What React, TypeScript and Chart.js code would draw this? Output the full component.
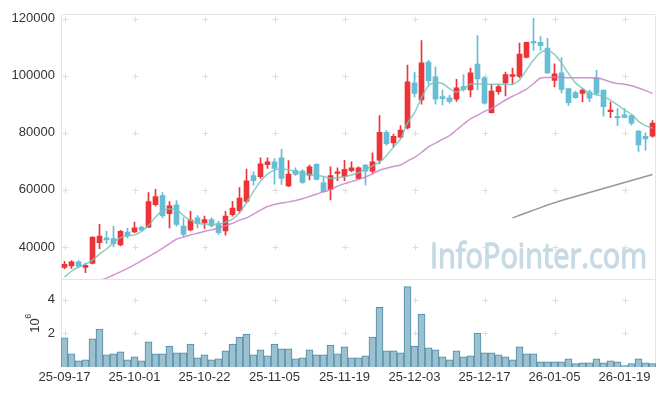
import React, { useEffect, useRef } from "react";
import { Chart, registerables } from "chart.js";

Chart.register(...registerables);

const dates = [
  "25-09-17", "25-09-18", "25-09-19", "25-09-22", "25-09-23", "25-09-24", "25-09-25", "25-09-26", "25-09-29", "25-09-30",
  "25-10-01", "25-10-02", "25-10-10", "25-10-13", "25-10-14", "25-10-15", "25-10-16", "25-10-17", "25-10-20", "25-10-21",
  "25-10-22", "25-10-23", "25-10-24", "25-10-27", "25-10-28", "25-10-29", "25-10-30", "25-10-31", "25-11-03", "25-11-04",
  "25-11-05", "25-11-06", "25-11-07", "25-11-10", "25-11-11", "25-11-12", "25-11-13", "25-11-14", "25-11-17", "25-11-18",
  "25-11-19", "25-11-20", "25-11-21", "25-11-24", "25-11-25", "25-11-26", "25-11-27", "25-11-28", "25-12-01", "25-12-02",
  "25-12-03", "25-12-04", "25-12-05", "25-12-08", "25-12-09", "25-12-10", "25-12-11", "25-12-12", "25-12-15", "25-12-16",
  "25-12-17", "25-12-18", "25-12-19", "25-12-22", "25-12-23", "25-12-24", "25-12-26", "25-12-29", "25-12-30", "26-01-02",
  "26-01-05", "26-01-06", "26-01-07", "26-01-08", "26-01-09", "26-01-12", "26-01-13", "26-01-14", "26-01-15", "26-01-16",
  "26-01-19", "26-01-20", "26-01-21", "26-01-22", "26-01-23",
];

const opens = [
  32800, 33400, 34800, 32800, 34200, 41500, 43200, 42900, 40700, 45200,
  45300, 46900, 46900, 54800, 58000, 51700, 54800, 47300, 46000, 50200,
  48400, 49600, 48200, 45600, 51300, 52700, 56000, 65000, 64600, 68800,
  69800, 71200, 61400, 66900, 66600, 65200, 69000, 62500, 60200, 65800,
  64600, 66700, 64000, 68700, 66600, 70400, 80200, 76500, 78500, 81700,
  97500, 91500, 104800, 99600, 92700, 92300, 91800, 96200, 95000, 104100,
  99300, 87100, 94400, 97500, 99800, 99800, 106400, 111700, 111700, 109700,
  98400, 101000, 95500, 94100, 93800, 94400, 99300, 95000, 87400, 85800,
  86300, 86000, 80600, 78800, 78800,
];

const highs = [
  35000, 35200, 35200, 34300, 43600, 47900, 45500, 47300, 45800, 46500,
  48700, 47300, 59100, 60200, 59100, 55900, 56300, 50200, 52500, 51000,
  50800, 50200, 49000, 52500, 56000, 60800, 67300, 66300, 71200, 71200,
  71000, 74200, 70300, 67700, 67000, 68700, 69200, 64600, 68100, 67700,
  70400, 69800, 68100, 68900, 73000, 86000, 80800, 79600, 82500, 103700,
  101200, 112300, 105400, 103100, 95000, 93100, 98700, 100400, 102700, 114100,
  99600, 97000, 97000, 101300, 102700, 111400, 111800, 120100, 113700, 113100,
  104200, 106400, 95500, 94600, 95400, 95000, 101900, 95000, 90800, 88500,
  88500, 86300, 80800, 80000, 84300,
];

const lows = [
  32300, 32500, 32800, 31000, 34100, 39400, 41200, 40000, 40400, 43200,
  45000, 45500, 46800, 54400, 50200, 46700, 47300, 43800, 45600, 46700,
  46500, 46900, 44400, 44100, 50800, 51900, 55400, 61700, 64000, 67500,
  62000, 61900, 61100, 65100, 62300, 63500, 63500, 59100, 56500, 63200,
  63200, 66300, 63800, 61700, 65800, 69200, 75600, 75000, 78100, 81400,
  92500, 90000, 97000, 90000, 89800, 90400, 91000, 94600, 92600, 95000,
  90000, 86900, 93500, 92900, 97000, 99300, 106200, 108900, 108900, 100800,
  96100, 94000, 89600, 92100, 90800, 90900, 93300, 85800, 85300, 82500,
  85200, 82700, 73500, 73900, 78500,
];

const closes = [
  33900, 34800, 33200, 33600, 43500, 43800, 42500, 41200, 45500, 44000,
  46700, 45900, 55900, 57700, 51000, 54400, 47900, 44400, 49400, 48200,
  49600, 47500, 45000, 50800, 53600, 57100, 63200, 63200, 69100, 69800,
  67500, 64000, 65500, 65400, 62600, 68100, 63700, 59400, 65000, 66300,
  67200, 67700, 67700, 66600, 69800, 80200, 76200, 78800, 81000, 97900,
  93800, 104500, 98300, 91800, 92000, 91000, 95800, 95200, 101000, 98900,
  90400, 94600, 96200, 100400, 100400, 107600, 111700, 111500, 110500, 101000,
  100700, 95200, 90600, 92300, 95000, 92100, 93800, 89200, 87500, 85200,
  85400, 83400, 75800, 77900, 83400,
];

const volumes = [
  1730000, 780000, 370000, 430000, 1670000, 2250000, 730000, 780000, 900000, 430000,
  610000, 370000, 1490000, 780000, 780000, 1250000, 840000, 840000, 1370000, 550000,
  730000, 430000, 490000, 960000, 1370000, 1780000, 1960000, 730000, 1020000, 670000,
  1370000, 1080000, 1080000, 490000, 550000, 1020000, 730000, 730000, 1310000, 780000,
  1200000, 550000, 550000, 670000, 1780000, 3550000, 960000, 960000, 840000, 4780000,
  1250000, 3140000, 1140000, 1020000, 610000, 430000, 960000, 610000, 670000, 2020000,
  840000, 840000, 730000, 610000, 430000, 1200000, 780000, 780000, 310000, 310000,
  310000, 310000, 490000, 200000, 250000, 250000, 490000, 250000, 370000, 310000,
  80000, 200000, 490000, 250000, 200000,
];

const ma5 = [
  29500, 31500, 33000, 34000, 35400, 37500, 39300, 41500, 43300, 43900,
  44200, 45500, 47500, 50500, 52700, 53300, 53200, 51000, 49300, 48300,
  48000, 48000, 48000, 48700, 49800, 52000, 55600, 59500, 63000, 65500,
  67000, 67200, 67100, 66500, 65600, 65400, 65100, 64700, 64000, 64300,
  64600, 65200, 66000, 67200, 68400, 69700, 72000, 75000, 77800, 83500,
  87000, 92300, 96500, 97600, 97300, 95500, 94300, 95500, 97100, 97100,
  97000, 97000, 97000, 97000, 97000, 98500, 102000, 105500, 108100, 108800,
  107500, 104500, 100800, 97500, 95600, 93800, 93300, 92800, 91400, 89800,
  88000, 86500, 84000, 82500, 81600,
];

const ma20 = [
  24500, 25300, 26000, 26800, 27500, 28300, 29100, 30200, 31300, 32500,
  33800, 35200, 36600, 38000, 39500, 41200, 42700, 43500, 44200, 44800,
  45500, 46000, 46700, 47400, 48300, 49400, 50200, 51500, 52900, 54200,
  54900, 55400, 55800, 56300, 56900, 57700, 58500, 59400, 60000, 61300,
  62200, 62900, 63700, 64500, 65600, 66900, 67600, 68200, 68700, 70100,
  71400, 73100, 75100, 76400, 77700, 79000, 81000, 83000, 84900, 86200,
  87500, 88500, 90000, 91500, 92800, 94000, 95300, 97200, 99200, 99400,
  99500, 99500, 99300, 99300, 99300, 99300, 99200, 98700, 97800, 97300,
  97000, 96500, 95700, 94800, 93800,
];

const ma60 = [
  null, null, null, null, null, null, null, null, null, null,
  null, null, null, null, null, null, null, null, null, null,
  null, null, null, null, null, null, null, null, null, null,
  null, null, null, null, null, null, null, null, null, null,
  null, null, null, null, null, null, null, null, null, null,
  null, null, null, null, null, null, null, null, null, null,
  null, null, null, null, 50200, 51100, 52000, 52900, 53800, 54700,
  55500, 56300, 57000, 57700, 58400, 59100, 59800, 60500, 61200, 61900,
  62600, 63300, 64000, 64700, 65400,
];

const priceTicks = [40000, 60000, 80000, 100000, 120000];
const volumeTicks = [2000000, 4000000];
const labelIndexes = [0, 10, 20, 30, 40, 50, 60, 70, 80];

const PRICE_MIN = 28800;
const PRICE_MAX = 121700;
const VOLUME_MAX = 5235000;

const UP = "#ec3338";
const DOWN = "#66bdd6";
const TEXT = "#333333";
const FONT = "'Liberation Sans', Arial, sans-serif";

const decorPlugin = {
  id: "decor",
  beforeDatasetsDraw(chart: any) {
    const { ctx, chartArea } = chart;
    const xs = chart.scales.x;
    const ys = chart.scales.y;
    const vs = chart.scales.yVol;
    ctx.save();
    // watermark
    ctx.font = `35px 'Open Sans', ${FONT}`;
    const text = "InfoPointer.com";
    const w = ctx.measureText(text).width;
    const targetW = 217;
    ctx.fillStyle = "#c6dae5";
    ctx.strokeStyle = "#c6dae5";
    ctx.lineWidth = 1.3;
    ctx.lineJoin = "round";
    ctx.textBaseline = "alphabetic";
    ctx.translate(chartArea.right - 9 - targetW, ys.bottom - 11);
    ctx.scale(targetW / w, 1);
    ctx.fillText(text, 0, 0);
    ctx.strokeText(text, 0, 0);
    ctx.restore();

    ctx.save();
    // frame
    ctx.strokeStyle = "#e4e4e4";
    ctx.lineWidth = 1;
    ctx.beginPath();
    const L = Math.round(chartArea.left) + 0.5;
    const R = Math.round(chartArea.right) - 0.5;
    const T = Math.round(chartArea.top) + 0.5;
    const S = Math.round(ys.bottom) + 0.5;
    const B = Math.round(chartArea.bottom);
    ctx.moveTo(L, B);
    ctx.lineTo(L, T);
    ctx.lineTo(R, T);
    ctx.lineTo(R, B);
    ctx.moveTo(L, S);
    ctx.lineTo(R, S);
    ctx.stroke();

    // grid crosses
    ctx.strokeStyle = "#dedede";
    ctx.beginPath();
    const cross = (x: number, y: number) => {
      const cx = Math.round(x) + 0.5;
      const cy = Math.round(y) + 0.5;
      ctx.moveTo(cx - 3, cy);
      ctx.lineTo(cx + 3, cy);
      ctx.moveTo(cx, cy - 3);
      ctx.lineTo(cx, cy + 3);
    };
    for (const i of labelIndexes) {
      const x = xs.getPixelForValue(i);
      for (const v of priceTicks) cross(x, ys.getPixelForValue(v));
      for (const v of volumeTicks) cross(x, vs.getPixelForValue(v));
    }
    ctx.stroke();
    ctx.restore();
  },
  beforeDatasetDraw(chart: any, args: any) {
    const ds = chart.data.datasets[args.index];
    if (ds.yAxisID !== "y") return;
    const ys = chart.scales.y;
    const { ctx, chartArea } = chart;
    ctx.save();
    ctx.beginPath();
    ctx.rect(chartArea.left, ys.top, chartArea.right - chartArea.left, ys.bottom - ys.top);
    ctx.clip();
  },
  afterDatasetDraw(chart: any, args: any) {
    const ds = chart.data.datasets[args.index];
    if (ds.yAxisID !== "y") return;
    chart.ctx.restore();
  },
  afterDraw(chart: any) {
    const { ctx } = chart;
    const vs = chart.scales.yVol;
    ctx.save();
    ctx.translate(33, (vs.top + vs.bottom) / 2);
    ctx.rotate(-Math.PI / 2);
    ctx.fillStyle = TEXT;
    ctx.textBaseline = "middle";
    ctx.font = `13px ${FONT}`;
    const w1 = ctx.measureText("10").width;
    ctx.font = `9px ${FONT}`;
    const w2 = ctx.measureText("6").width;
    const start = -(w1 + w2) / 2;
    ctx.font = `13px ${FONT}`;
    ctx.fillText("10", start, 2);
    ctx.font = `9px ${FONT}`;
    ctx.fillText("6", start + w1 - 0.5, -4);
    ctx.restore();
  },
};

export default function App() {
  const ref = useRef<HTMLCanvasElement>(null);

  useEffect(() => {
    const canvas = ref.current;
    if (!canvas) return;
    const bodyColors = opens.map((o, i) => (closes[i] >= o ? UP : DOWN));

    const chart = new Chart(canvas, {
      type: "bar",
      data: {
        labels: dates,
        datasets: [
          {
            type: "line",
            label: "MA5",
            data: ma5,
            yAxisID: "y",
            borderColor: "rgba(120,196,188,0.85)",
            borderWidth: 1.5,
            pointRadius: 0,
            tension: 0.25,
            order: 0,
          } as any,
          {
            type: "line",
            label: "MA20",
            data: ma20,
            yAxisID: "y",
            borderColor: "rgba(200,130,200,0.85)",
            borderWidth: 1.5,
            pointRadius: 0,
            tension: 0.25,
            order: 0,
          } as any,
          {
            type: "line",
            label: "MA60",
            data: ma60,
            yAxisID: "y",
            borderColor: "rgba(140,140,140,0.9)",
            borderWidth: 1.5,
            pointRadius: 0,
            tension: 0.25,
            order: 0,
          } as any,
          {
            type: "bar",
            label: "body",
            data: opens.map((o, i) => [o, closes[i]]),
            yAxisID: "y",
            backgroundColor: bodyColors,
            barThickness: 5,
            grouped: false,
            minBarLength: 1.5,
            order: 1,
          } as any,
          {
            type: "bar",
            label: "wick",
            data: lows.map((l, i) => [l, highs[i]]),
            yAxisID: "y",
            backgroundColor: bodyColors,
            barThickness: 1,
            grouped: false,
            order: 2,
          } as any,
          {
            type: "bar",
            label: "volume",
            data: volumes,
            yAxisID: "yVol",
            backgroundColor: "#9bc0cf",
            borderColor: "#4f8ba6",
            borderWidth: 1,
            barPercentage: 1,
            categoryPercentage: 1,
            grouped: false,
            order: 3,
          } as any,
        ],
      },
      options: {
        responsive: true,
        maintainAspectRatio: false,
        animation: false,
        layout: { padding: { top: 10, right: 9, left: 0, bottom: 0 } },
        plugins: { legend: { display: false }, tooltip: { enabled: false } },
        scales: {
          x: {
            type: "category",
            grid: { display: false, drawTicks: false },
            border: { display: false },
            ticks: {
              autoSkip: false,
              maxRotation: 0,
              minRotation: 0,
              padding: 3,
              color: TEXT,
              font: { family: FONT, size: 13 },
              callback: (_v: any, i: number) => (labelIndexes.includes(i) ? dates[i] : ""),
            },
            afterFit: (s: any) => {
              s.height = 29;
            },
          },
          y: {
            type: "linear",
            position: "left",
            stack: "panels",
            stackWeight: 268,
            weight: 2,
            min: PRICE_MIN,
            max: PRICE_MAX,
            grid: { display: false, drawTicks: false },
            border: { display: false },
            ticks: {
              padding: 6,
              color: TEXT,
              font: { family: FONT, size: 13 },
              callback: (v: any) => String(v),
            },
            afterBuildTicks: (s: any) => {
              s.ticks = priceTicks.map((value) => ({ value }));
            },
            afterFit: (s: any) => {
              s.width = 61;
            },
          },
          yVol: {
            type: "linear",
            position: "left",
            stack: "panels",
            stackWeight: 89,
            weight: 1,
            min: 0,
            max: VOLUME_MAX,
            grid: { display: false, drawTicks: false },
            border: { display: false },
            ticks: {
              padding: 6,
              color: TEXT,
              font: { family: FONT, size: 13 },
              callback: (v: any) => String(v / 1000000),
            },
            afterBuildTicks: (s: any) => {
              s.ticks = volumeTicks.map((value) => ({ value }));
            },
            afterFit: (s: any) => {
              s.width = 61;
            },
          },
        },
      } as any,
      plugins: [decorPlugin],
    });
    return () => chart.destroy();
  }, []);

  return (
    <div style={{ position: "fixed", left: 0, top: 0, width: 665, height: 396, background: "#ffffff" }}>
      <canvas ref={ref} />
    </div>
  );
}
